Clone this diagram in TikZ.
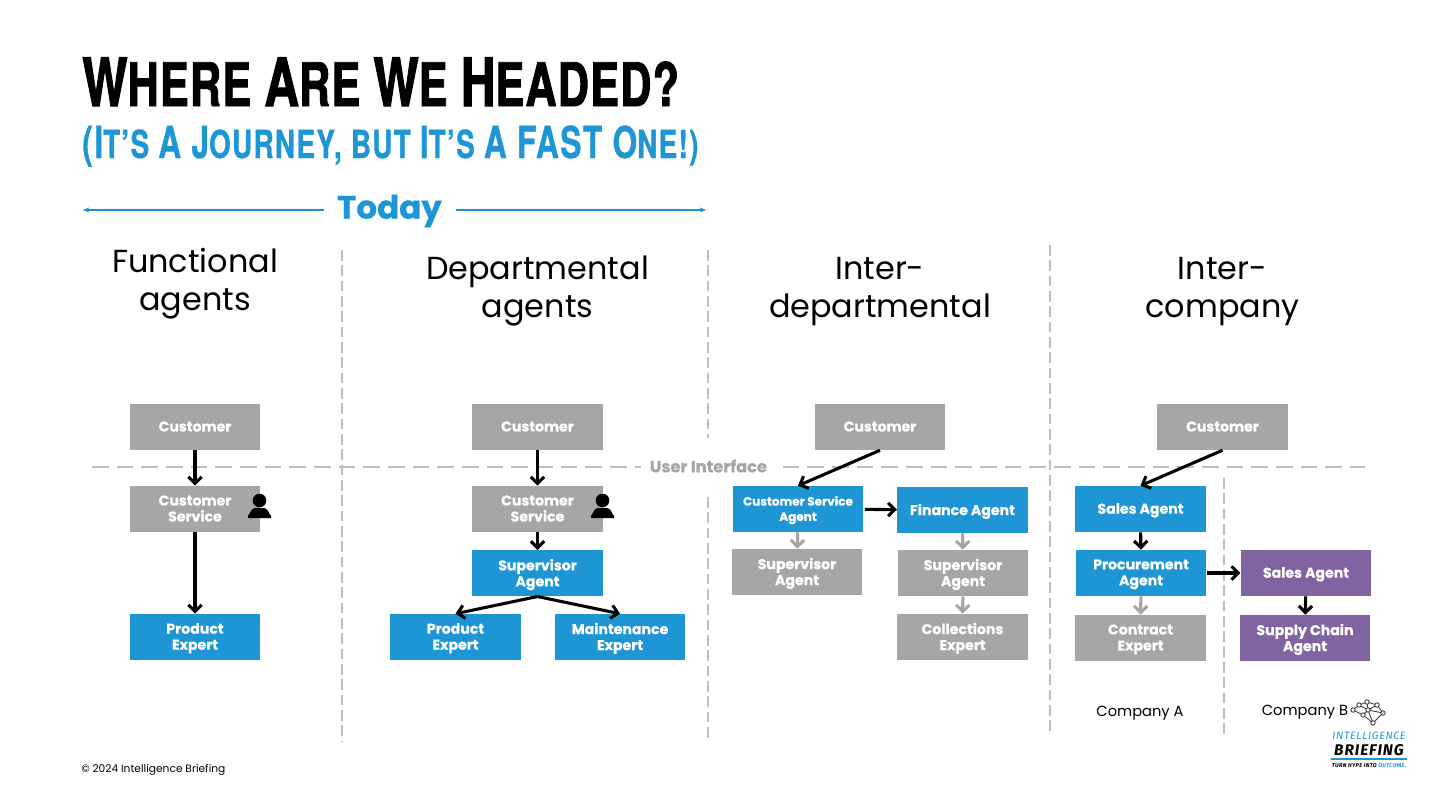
\documentclass[tikz,border=0pt]{standalone}
\usepackage{fontspec}
\setmainfont{Poppins}[BoldFeatures={FakeBold=0.5}]
\newfontfamily\titlefont[FakeStretch=0.72, LetterSpace=2, BoldFeatures={FakeBold=1.5}]{TeX Gyre Heros}
\newfontfamily\subtitlefont[FakeStretch=0.72, LetterSpace=3.5, BoldFeatures={FakeBold=0.8}]{TeX Gyre Heros}
\newfontfamily\logofont[LetterSpace=6]{Fira Sans}
\definecolor{skyblue}{RGB}{30, 150, 214}
\definecolor{boxgray}{RGB}{166, 166, 166}
\definecolor{dashgray}{RGB}{190, 190, 190}
\definecolor{plum}{RGB}{128, 100, 162}
\usetikzlibrary{positioning, arrows.meta}
\tikzset{
  agent/.style = {
    minimum width=98pt,
    minimum height=34.5pt,
    inner sep=0pt,
    text depth=0.8pt,
    align=center,
    text=white,
    font=\bfseries\fontsize{10.6pt}{12pt}\selectfont
  },
  grayagent/.style = {agent, fill=boxgray},
  blueagent/.style = {agent, fill=skyblue},
  plumagent/.style = {agent, fill=plum},
  arrow/.style = {
    -{Straight Barb[length=5pt, width=10pt]},
    line width=2.3pt,
    black
  },
  softarrow/.style = {arrow, boxgray},
  divider/.style = {
    dashgray,
    line width=1.5pt,
    dash pattern=on 8pt off 3.5pt
  },
  uiline/.style = {
    dashgray,
    line width=1.5pt,
    dash pattern=on 12.5pt off 6pt
  },
  todayline/.style = {
    skyblue,
    line width=1.2pt,
    -{Latex[length=5pt, width=4pt]}
  },
  heading/.style = {
    align=center,
    inner sep=0pt,
    font=\fontsize{23.9pt}{28.5pt}\selectfont
  },
  company/.style = {
    inner sep=0pt,
    font=\fontsize{11pt}{13pt}\selectfont
  },
  person/.pic = {
    \fill (0,-6.5) circle (6.8);
    \fill (-11.5,11) -- (-11.5,8) to[out=-90,in=180] (-5,1) -- (5,1) to[out=0,in=-90] (11.5,8) -- (11.5,11) -- cycle;
  },
}
\begin{document}
\begin{tikzpicture}[x=0.75pt, y=-0.75pt, node distance=13.3pt and 25pt]
    \useasboundingbox (0,0) rectangle (1440,810);
    \node[anchor=base west, inner sep=0pt, font=\titlefont\bfseries\fontsize{50pt}{50pt}\selectfont] (title) at (82,106)
      {W\fontsize{45pt}{50pt}\selectfont HERE \fontsize{50pt}{50pt}\selectfont A\fontsize{45pt}{50pt}\selectfont RE \fontsize{50pt}{50pt}\selectfont W\fontsize{45pt}{50pt}\selectfont E \fontsize{50pt}{50pt}\selectfont H\fontsize{45pt}{50pt}\selectfont EADED?};
    \node[anchor=base west, inner sep=0pt, text=skyblue, font=\subtitlefont\bfseries\fontsize{33pt}{33pt}\selectfont] (subtitle) at (82,158)
      {(I\fontsize{29pt}{33pt}\selectfont T’S \fontsize{33pt}{33pt}\selectfont A J\fontsize{29pt}{33pt}\selectfont OURNEY, BUT \fontsize{33pt}{33pt}\selectfont I\fontsize{29pt}{33pt}\selectfont T’S \fontsize{33pt}{33pt}\selectfont A FAST O\fontsize{29pt}{33pt}\selectfont NE!)};

    \node[inner sep=0pt, text=skyblue, font=\bfseries\fontsize{24.4pt}{30pt}\selectfont] (today) at (389.5,211) {Today};
    \coordinate (todayl) at (82,210);
    \coordinate (todayr) at (707,210);
    \coordinate (todaya) at (324,210);
    \coordinate (todayb) at (456,210);
    \draw[todayline] (todaya) -- (todayl);
    \draw[todayline] (todayb) -- (todayr);

    \node[heading] (functional) at (195,284) {Functional\\agents};
    \node[heading] (departmental) at (537.5,291) {Departmental\\agents};
    \node[heading] (interdept) at (880,292) {Inter-\\departmental};
    \node[heading] (intercomp) at (1222.5,292) {Inter-\\company};

    \coordinate (div1a) at (342,250);
    \coordinate (div1b) at (342,741);
    \coordinate (div2a) at (708,250);
    \coordinate (div2b) at (708,438);
    \coordinate (div2c) at (708,497);
    \coordinate (div2d) at (708,741);
    \coordinate (div3a) at (1050,245);
    \coordinate (div3b) at (1050,735);
    \coordinate (div4a) at (1224,478);
    \coordinate (div4b) at (1224,735);
    \coordinate (uia) at (92,467);
    \coordinate (uib) at (1365,467);
    \draw[divider] (div1a) -- (div1b);
    \draw[divider] (div2a) -- (div2b);
    \draw[divider] (div2c) -- (div2d);
    \draw[divider] (div3a) -- (div3b);
    \draw[divider] (div4a) -- (div4b);
    \draw[uiline] (uia) -- (uib);
    \node[fill=white, inner xsep=7pt, inner ysep=2pt, text=boxgray, font=\bfseries\fontsize{12.2pt}{14pt}\selectfont] (ui) at (708.5,466) {User Interface};

    \node[grayagent] (cust1) at (195,427) {Customer};
    \node[grayagent] (svc1) at (195,509) {Customer\\Service};
    \node[blueagent] (prod1) at (195,637) {Product\\Expert};
    \draw[arrow] (cust1) -- (svc1);
    \draw[arrow] (svc1) -- (prod1);
    \pic[black] at (259.5,507) {person};

    \node[grayagent] (cust2) at (537.5,427) {Customer};
    \node[grayagent] (svc2) at (537.5,509) {Customer\\Service};
    \node[blueagent, below=of svc2] (sup2) {Supervisor\\Agent};
    \node[blueagent] (prod2) at (455.5,637) {Product\\Expert};
    \node[blueagent, right=of prod2] (maint2) {Maintenance\\Expert};
    \draw[arrow] (cust2) -- (svc2);
    \draw[arrow] (svc2) -- (sup2);
    \draw[arrow] (sup2.south) -- (prod2.north);
    \draw[arrow] (sup2.south) -- (maint2.north);
    \pic[black] at (602.5,507) {person};

    \node[grayagent] (cust3) at (880,427) {Customer};
    \node[blueagent, font=\bfseries\fontsize{9pt}{11.5pt}\selectfont] (csa3) at (798,509) {Customer Service\\Agent};
    \node[blueagent] (fin3) at (962.5,510) {Finance Agent};
    \node[grayagent] (sup3a) at (797,572) {Supervisor\\Agent};
    \node[grayagent] (sup3b) at (963,573) {Supervisor\\Agent};
    \node[grayagent] (coll3) at (962.5,637) {Collections\\Expert};
    \draw[arrow] (cust3.south) -- (csa3.north);
    \draw[arrow, shorten <=1pt] (csa3) -- (fin3);
    \draw[softarrow] (csa3) -- (sup3a);
    \draw[softarrow] (fin3) -- (sup3b);
    \draw[softarrow] (sup3b) -- (coll3);

    \node[grayagent] (cust4) at (1222.5,427) {Customer};
    \node[blueagent] (sales4) at (1140.5,509) {Sales Agent};
    \node[blueagent] (proc4) at (1141,573) {Procurement\\Agent};
    \node[grayagent] (contract4) at (1140.5,638) {Contract\\Expert};
    \node[plumagent] (salesb) at (1306,573) {Sales Agent};
    \node[plumagent] (chain) at (1305,638) {Supply Chain\\Agent};
    \draw[arrow] (cust4.south) -- (sales4.north);
    \draw[arrow] (sales4) -- (proc4);
    \draw[softarrow] (proc4) -- (contract4);
    \draw[arrow] (proc4) -- (salesb);
    \draw[arrow] (salesb) -- (chain);

    \node[company] (compa) at (1140,713) {Company A};
    \node[company] (compb) at (1305,712) {Company B};

    \draw[black!80, line width=.6pt] (1353,710) -- (1359,705) -- (1367,702) -- (1377,705) -- (1383,713) -- (1373,723) -- (1363,715) -- (1353,710) (1359,705) -- (1368,710) -- (1377,705) (1367,702) -- (1368,710) -- (1383,713) (1363,715) -- (1368,710) -- (1373,723);
    \foreach \a/\b in {1353/710, 1359/705, 1367/702, 1377/705, 1383/713, 1373/723, 1363/715, 1368/710}
      \draw[black!80, line width=.6pt, fill=white] (\a,\b) circle (2.2);

    \node[inner sep=0pt, text=skyblue, font=\logofont\itshape\fontsize{8pt}{9pt}\selectfont] (logoa) at (1369,736) {INTELLIGENCE};
    \node[inner sep=0pt, font=\logofont\bfseries\itshape\fontsize{11.6pt}{12pt}\selectfont] (logob) at (1369,750) {BRIEFING};
    \coordinate (rulea) at (1331,759);
    \coordinate (ruleb) at (1407,759);
    \draw[skyblue, line width=1.5pt] (rulea) -- (ruleb);
    \node[inner sep=0pt, font=\logofont\bfseries\itshape\fontsize{4.2pt}{5pt}\selectfont] (logoc) at (1369,766) {TURN HYPE INTO \textcolor{skyblue}{OUTCOME.}};

    \node[anchor=base west, inner sep=0pt, font=\fontsize{8pt}{10pt}\selectfont] (copyright) at (81,772) {© 2024 Intelligence Briefing};
  \end{tikzpicture}
\end{document}
